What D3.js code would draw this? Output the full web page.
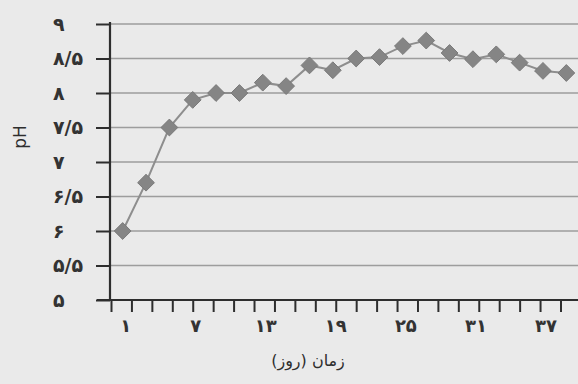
<!DOCTYPE html>
<html>
<head>
<meta charset="utf-8">
<script src="https://cdn.jsdelivr.net/npm/d3@7"></script>
<style>
  html, body { margin: 0; padding: 0; background: #eaeaea; }
  svg { display: block; }
</style>
</head>
<body>
<script>
// pH measured every two days
const days = [1, 3, 5, 7, 9, 11, 13, 15, 17, 19, 21, 23, 25, 27, 29, 31, 33, 35, 37, 39];
const phValues = [6.0, 6.7, 7.5, 7.9, 8.0, 8.0, 8.15, 8.1, 8.4, 8.33,
                  8.5, 8.52, 8.68, 8.76, 8.58, 8.49, 8.56, 8.44, 8.32, 8.29];

// Axis ticks and their Persian labels
const yTicks = [5, 5.5, 6, 6.5, 7, 7.5, 8, 8.5, 9];
const yTickLabels = ["۵", "۵/۵", "۶", "۶/۵", "۷", "۷/۵", "۸", "۸/۵", "۹"];
const xTickDays = [1, 7, 13, 19, 25, 31, 37];
const xTickLabels = ["۱", "۷", "۱۳", "۱۹", "۲۵", "۳۱", "۳۷"];

const xTitle = "زمان (روز)";
const yTitle = "pH";

const W = 578, H = 384;
const svg = d3.select("body").append("svg").attr("width", W).attr("height", H);

svg.append("rect").attr("width", W).attr("height", H).attr("fill", "#eaeaea");

const x = d3.scaleLinear().domain([0, 40]).range([111, 578]);
const y = d3.scaleLinear().domain([5, 9]).range([300, 24]);
const axisX = 110;

// horizontal gridlines
svg.append("g").selectAll("line")
  .data(yTicks.filter(v => v > 5))
  .join("line")
  .attr("x1", axisX).attr("x2", W)
  .attr("y1", d => y(d)).attr("y2", d => y(d))
  .attr("stroke", "#9d9d9d").attr("stroke-width", 1.6);

// y axis: line, outward ticks, labels
const yAxis = svg.append("g").attr("transform", `translate(${axisX},0)`)
  .call(d3.axisLeft(y).tickValues(yTicks).tickSize(14).tickFormat(""));
yAxis.select(".domain").attr("stroke", "#2e2e2e").attr("stroke-width", 2.2)
  .attr("d", `M0,${y(9) - 2}V${y(5) + 1}`);
yAxis.selectAll(".tick line").attr("stroke", "#2e2e2e").attr("stroke-width", 2);

svg.append("g").selectAll("text")
  .data(yTicks)
  .join("text")
  .attr("x", 53)
  .attr("y", d => y(d))
  .attr("dy", "0.35em")
  .attr("text-anchor", "start")
  .attr("font-family", "DejaVu Sans")
  .attr("font-size", 19)
  .attr("font-weight", "bold")
  .attr("letter-spacing", 2)
  .attr("fill", "#333")
  .text((d, i) => yTickLabels[i]);

// x axis: line with small ticks
const minorTicks = d3.range(0, 40, 1.75);
const xAxis = svg.append("g").attr("transform", `translate(0,${y(5)})`)
  .call(d3.axisBottom(x).tickValues(minorTicks).tickSize(12).tickFormat(""));
xAxis.select(".domain").attr("stroke", "#2e2e2e").attr("stroke-width", 2.2)
  .attr("d", `M97,0H${W}`);
xAxis.selectAll(".tick line").attr("stroke", "#2e2e2e").attr("stroke-width", 2);

svg.append("g").selectAll("text")
  .data(xTickDays)
  .join("text")
  .attr("x", d => x(d) + 3)
  .attr("y", 332)
  .attr("text-anchor", "middle")
  .attr("font-family", "DejaVu Sans")
  .attr("font-size", 18)
  .attr("font-weight", "bold")
  .attr("letter-spacing", 2)
  .attr("fill", "#333")
  .text((d, i) => xTickLabels[i]);

// axis titles
svg.append("text")
  .attr("x", 308).attr("y", 366)
  .attr("text-anchor", "middle")
  .attr("direction", "rtl")
  .attr("font-family", "DejaVu Sans")
  .attr("font-size", 16)
  .attr("fill", "#2e2e2e")
  .text(xTitle);

svg.append("text")
  .attr("transform", "translate(26,137) rotate(-90)")
  .attr("text-anchor", "middle")
  .attr("font-family", "DejaVu Sans")
  .attr("font-size", 17)
  .attr("fill", "#2e2e2e")
  .text(yTitle);

// series line and diamond markers
const pts = days.map((d, i) => [d, phValues[i]]);
svg.append("path")
  .datum(pts)
  .attr("fill", "none")
  .attr("stroke", "#8e8e8e")
  .attr("stroke-width", 2)
  .attr("d", d3.line().x(d => x(d[0])).y(d => y(d[1])));

svg.append("g").selectAll("path")
  .data(pts)
  .join("path")
  .attr("transform", d => `translate(${x(d[0])},${y(d[1])})`)
  .attr("d", d3.symbol().type(d3.symbolDiamond2).size(180))
  .attr("fill", "#858585")
  .attr("stroke", "#7a7a7a")
  .attr("stroke-width", 1);
</script>
</body>
</html>
